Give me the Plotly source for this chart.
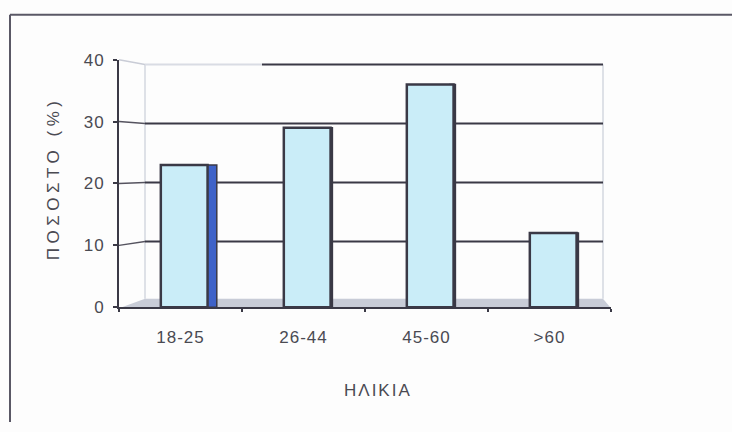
import plotly.graph_objects as go

# Age groups and share of respondents (%)
age_groups = ["18-25", "26-44", "45-60", ">60"]
percent = [23, 29, 36, 12]
y_ticks = [0, 10, 20, 30, 40]
x_title = "ΗΛΙΚΙΑ"
y_title = "ΠΟΣΟΣΤΟ (%)"

W, H = 732, 432
FONT = "Liberation Sans, Arial, sans-serif"
TEXT_COLOR = "#4a4a52"
DARK = "#3a3946"


def fx(px):
    return px / W


def fy(py):
    return 1 - py / H


def spaced(s, gap):
    return f'<span style="letter-spacing:{gap}px">{s}</span>'


# front (axis) box and the receding back wall, in pixels
X0, X1 = 119, 611
Y0, Y40 = 312, 53
BX0, BX1 = 145, 603
BY0, BY40 = 305, 58


def front_y(v):
    return Y0 + (Y40 - Y0) * v / 40


def back_y(v):
    return BY0 + (BY40 - BY0) * v / 40


shapes = []
# outer frame (left and top edges)
shapes.append(dict(type="line", xref="paper", yref="paper", x0=fx(10), y0=fy(6), x1=1, y1=fy(6),
                   line=dict(color="#5a5866", width=2)))
shapes.append(dict(type="line", xref="paper", yref="paper", x0=fx(10), y0=fy(6), x1=fx(10), y1=0,
                   line=dict(color="#5a5866", width=2)))
# floor of the 3-D box
shapes.append(dict(type="path", xref="paper", yref="paper", layer="below",
                   path=f"M {fx(X0)} {fy(313)} L {fx(X1)} {fy(313)} L {fx(BX1)} {fy(BY0 - 2)} "
                        f"L {fx(BX0)} {fy(BY0 - 2)} Z",
                   fillcolor="#c8ccd7", line=dict(width=0)))
# back wall side edges
for bx in (BX0, BX1):
    shapes.append(dict(type="line", xref="paper", yref="paper", layer="below",
                       x0=fx(bx), y0=fy(back_y(0) - 2), x1=fx(bx), y1=fy(back_y(40)),
                       line=dict(color="#d3d7df", width=1.5)))
# gridlines on the back wall plus the slanted side-wall connectors
for v in y_ticks[1:]:
    yb = fy(back_y(v))
    if v == y_ticks[-1]:
        shapes.append(dict(type="line", xref="paper", yref="paper", layer="below",
                           x0=fx(BX0), y0=yb, x1=fx(262), y1=yb,
                           line=dict(color="#d9dce4", width=2)))
        shapes.append(dict(type="line", xref="paper", yref="paper", layer="below",
                           x0=fx(262), y0=yb, x1=fx(BX1), y1=yb,
                           line=dict(color=DARK, width=2)))
        conn = "#c9ccd6"
    else:
        shapes.append(dict(type="line", xref="paper", yref="paper", layer="below",
                           x0=fx(BX0), y0=yb, x1=fx(BX1), y1=yb,
                           line=dict(color=DARK, width=2)))
        conn = "#55535f"
    shapes.append(dict(type="line", xref="paper", yref="paper", layer="below",
                       x0=fx(X0), y0=fy(front_y(v)), x1=fx(BX0), y1=yb,
                       line=dict(color=conn, width=1.5)))

fig = go.Figure()
# right-hand side faces of the columns
fig.add_trace(go.Bar(
    x=age_groups, y=percent,
    width=[0.105, 0.045, 0.045, 0.045], offset=0.19,
    marker=dict(color=["#3e62c8", DARK, DARK, DARK], line=dict(color=DARK, width=1.5)),
    hoverinfo="skip", showlegend=False,
))
# front faces of the columns
fig.add_trace(go.Bar(
    x=age_groups, y=percent, width=0.38, offset=-0.16,
    marker=dict(color="#caedf8", line=dict(color=DARK, width=2.5)),
    showlegend=False,
))

fig.update_layout(
    width=W, height=H,
    margin=dict(l=0, r=0, t=0, b=0),
    paper_bgcolor="#fdfdfd", plot_bgcolor="rgba(0,0,0,0)",
    barmode="overlay",
    font=dict(family=FONT, color=TEXT_COLOR),
    shapes=shapes,
    xaxis=dict(
        domain=[fx(X0), fx(X1)], range=[-0.5, 3.5], type="category",
        tickvals=age_groups, ticktext=[spaced(s, 1) for s in age_groups],
        showline=True, linecolor=DARK, linewidth=2,
        ticks="outside", tickson="boundaries", ticklen=3, tickcolor=DARK, tickwidth=1.5,
        tickfont=dict(size=17, color=TEXT_COLOR), ticklabelstandoff=13,
        showgrid=False, zeroline=False, fixedrange=True,
    ),
    yaxis=dict(
        domain=[fy(Y0), fy(Y40)], range=[0, 40],
        tickvals=y_ticks, ticktext=[spaced(str(t), 1) for t in y_ticks],
        showline=True, linecolor=DARK, linewidth=2,
        ticks="outside", ticklen=4, tickcolor=DARK, tickwidth=1.5,
        tickfont=dict(size=17, color=TEXT_COLOR), ticklabelstandoff=5,
        showgrid=False, zeroline=False, fixedrange=True,
    ),
    annotations=[
        dict(text=spaced(x_title, 2), xref="paper", yref="paper", x=fx(378), y=fy(399),
             xanchor="center", yanchor="middle",
             showarrow=False, font=dict(size=17, color=TEXT_COLOR)),
        dict(text=spaced(y_title, 4.5), xref="paper", yref="paper", x=fx(53), y=fy(177),
             xanchor="center", yanchor="middle",
             textangle=-90, showarrow=False, font=dict(size=17, color=TEXT_COLOR)),
    ],
)

fig.write_html("out.html")
